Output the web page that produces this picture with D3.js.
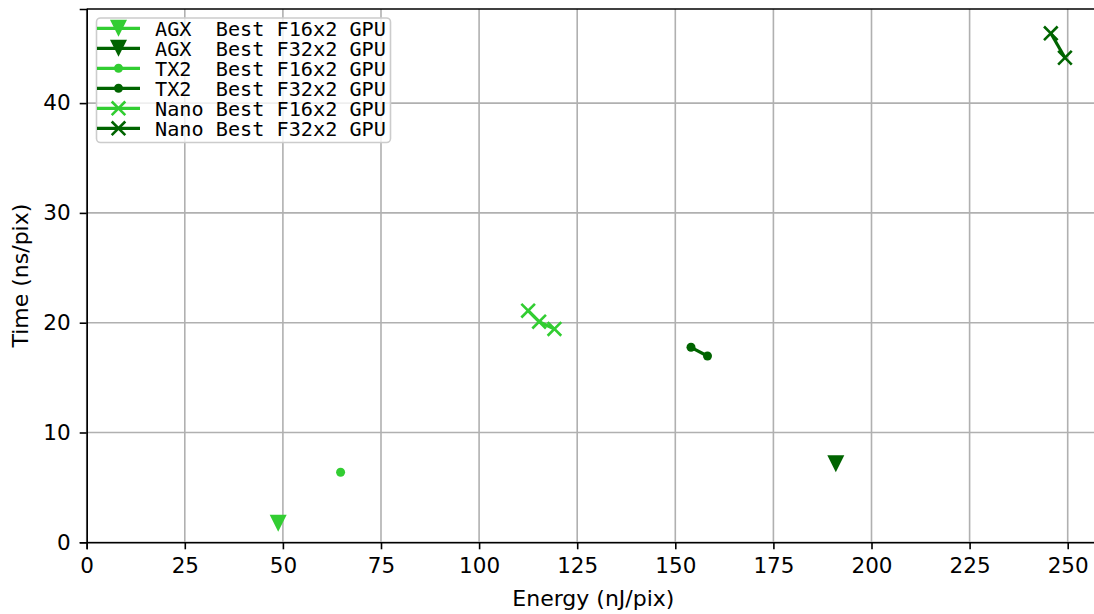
<!DOCTYPE html>
<html><head><meta charset="utf-8">
<script src="https://cdn.jsdelivr.net/npm/d3@7"></script>
<style>body{margin:0;background:#fff}svg{display:block}</style>
</head><body>
<svg id="chart" width="1094" height="614"></svg>
<script>
// Data (energy nJ/pix, time ns/pix)
const agxF16 = [{x: 48.8, y: 1.73}];
const agxF32 = [{x: 190.9, y: 7.16}];
const tx2F16 = [{x: 64.7, y: 6.38}];
const tx2F32 = [{x: 154.0, y: 17.76}, {x: 158.2, y: 16.97}];
const nanoF16 = [{x: 112.5, y: 21.09}, {x: 115.3, y: 20.09}, {x: 119.2, y: 19.43}];
const nanoF32 = [{x: 245.7, y: 46.36}, {x: 249.3, y: 44.13}];
const xTicks = [0, 25, 50, 75, 100, 125, 150, 175, 200, 225, 250];
const yTicks = [0, 10, 20, 30, 40];
const labels = ["AGX  Best F16x2 GPU", "AGX  Best F32x2 GPU", "TX2  Best F16x2 GPU", "TX2  Best F32x2 GPU", "Nano Best F16x2 GPU", "Nano Best F32x2 GPU"];

const light = "#32cd32", dark = "#006400";
const series = [
  {data: agxF16, color: light, marker: "tri", label: labels[0]},
  {data: agxF32, color: dark, marker: "tri", label: labels[1]},
  {data: tx2F16, color: light, marker: "dot", label: labels[2]},
  {data: tx2F32, color: dark, marker: "dot", label: labels[3]},
  {data: nanoF16, color: light, marker: "x", label: labels[4]},
  {data: nanoF32, color: dark, marker: "x", label: labels[5]}
];

const svg = d3.select("#chart");
const padL = 86.7, padB = 542.3, padT = 9;
const x = d3.scaleLinear().domain([0, 259.3]).range([padL, padL + 259.3 * 3.924]);
const y = d3.scaleLinear().domain([0, 48.57]).range([padB, padT]);
const font = "DejaVu Sans, sans-serif";

// grid
svg.append("g").selectAll("line").data(xTicks).join("line")
  .attr("x1", d => x(d)).attr("x2", d => x(d)).attr("y1", y(0)).attr("y2", padT)
  .attr("stroke", "#b0b0b0").attr("stroke-width", 1.6);
svg.append("g").selectAll("line").data(yTicks).join("line")
  .attr("x1", padL).attr("x2", 1094).attr("y1", d => y(d)).attr("y2", d => y(d))
  .attr("stroke", "#b0b0b0").attr("stroke-width", 1.6);

// axes
const xAxis = svg.append("g").attr("transform", `translate(0,${padB})`)
  .call(d3.axisBottom(x).tickValues(xTicks).tickSize(7).tickPadding(8).tickFormat(d3.format("d")));
const yAxis = svg.append("g").attr("transform", `translate(${padL},0)`)
  .call(d3.axisLeft(y).tickValues(yTicks).tickSize(7).tickPadding(9).tickFormat(d3.format("d")));
[xAxis, yAxis].forEach(g => {
  g.select(".domain").attr("stroke", "#000").attr("stroke-width", 1.6);
  g.selectAll(".tick line").attr("stroke", "#000").attr("stroke-width", 1.6);
  g.selectAll("text").attr("font-family", font).attr("font-size", 21.5).attr("fill", "#000");
});
// top spine
svg.append("line").attr("x1", padL).attr("x2", 1094).attr("y1", padT).attr("y2", padT)
  .attr("stroke", "#000").attr("stroke-width", 1.6);

// axis titles
svg.append("text").attr("x", (padL + 1094) / 2 + 3).attr("y", 606).attr("text-anchor", "middle")
  .attr("font-family", font).attr("font-size", 22).text("Energy (nJ/pix)");
svg.append("text").attr("transform", `translate(28,${(padT + padB) / 2}) rotate(-90)`)
  .attr("text-anchor", "middle").attr("font-family", font).attr("font-size", 22).text("Time (ns/pix)");

function drawMarker(g, type, color, cx, cy) {
  if (type === "tri") {
    const s = 8.5;
    g.append("path").attr("d", `M${cx - s},${cy - s}L${cx + s},${cy - s}L${cx},${cy + s}Z`).attr("fill", color);
  } else if (type === "dot") {
    g.append("circle").attr("cx", cx).attr("cy", cy).attr("r", 4.5).attr("fill", color);
  } else {
    const s = 6.8;
    g.append("path").attr("d", `M${cx - s},${cy - s}L${cx + s},${cy + s}M${cx - s},${cy + s}L${cx + s},${cy - s}`)
      .attr("stroke", color).attr("stroke-width", 2.6).attr("fill", "none");
  }
}

const line = d3.line().x(d => x(d.x)).y(d => y(d.y));
const plot = svg.append("g");
series.forEach(s => {
  plot.append("path").datum(s.data).attr("d", line).attr("fill", "none")
    .attr("stroke", s.color).attr("stroke-width", 3.2);
  s.data.forEach(d => drawMarker(plot, s.marker, s.color, x(d.x), y(d.y)));
});

// legend
const lg = svg.append("g");
lg.append("rect").attr("x", 96.5).attr("y", 18).attr("width", 294).attr("height", 124.5).attr("rx", 4)
  .attr("fill", "rgba(255,255,255,0.8)").attr("stroke", "#cccccc").attr("stroke-width", 1.6);
series.forEach((s, i) => {
  const cy = 28.3 + i * 20;
  lg.append("line").attr("x1", 97).attr("x2", 140).attr("y1", cy).attr("y2", cy)
    .attr("stroke", s.color).attr("stroke-width", 3.2);
  drawMarker(lg, s.marker, s.color, 118.5, cy);
  lg.append("text").attr("x", 155).attr("y", cy + 7.3).attr("font-family", "DejaVu Sans Mono, monospace")
    .attr("font-size", 20.2).attr("xml:space", "preserve").style("white-space", "pre").text(s.label);
});
</script>
</body></html>
